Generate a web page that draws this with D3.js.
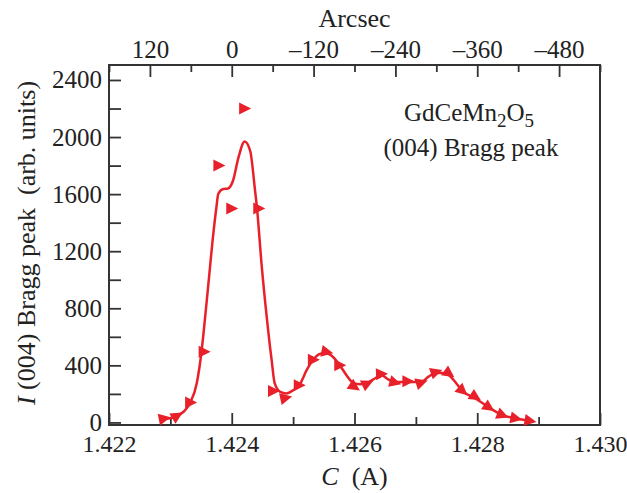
<!DOCTYPE html>
<html>
<head>
<meta charset="utf-8">
<script src="https://cdn.jsdelivr.net/npm/d3@7"></script>
<style>
  body { margin: 0; background: #fff; }
  text { font-family: "Liberation Serif", "Times New Roman", serif; fill: #222; }
</style>
</head>
<body>
<svg id="viz"></svg>
<script>
const width = 627, height = 493;

// measured points (lattice constant C, intensity)
const pointC = [1.42290, 1.42311, 1.42333, 1.42355, 1.42379, 1.42400, 1.42421, 1.42444,
                1.42468, 1.42488, 1.42510, 1.42533, 1.42555, 1.42576, 1.42600, 1.42621,
                1.42644, 1.42666, 1.42687, 1.42709, 1.42733, 1.42754, 1.42776, 1.42797,
                1.42819, 1.42841, 1.42863, 1.42886];
const pointI = [28, 46, 140, 495, 1800, 1500, 2200, 1500,
                221, 172, 261, 440, 494, 401, 249, 273,
                339, 280, 289, 280, 354, 343, 221, 179,
                105, 51, 28, 11];

// smooth fit curve
const curveC = [1.42290, 1.42311, 1.42333, 1.42343, 1.42351, 1.42354, 1.42362, 1.42370,
                1.42375, 1.42378, 1.42386, 1.42394, 1.42402, 1.42411, 1.42421, 1.42430,
                1.42438, 1.42441, 1.42449, 1.42457, 1.42465, 1.42470, 1.42479, 1.42489,
                1.42500, 1.42511, 1.42522, 1.42533, 1.42546, 1.42555, 1.42565, 1.42576,
                1.42587, 1.42598, 1.42609, 1.42621, 1.42633, 1.42644, 1.42655, 1.42666,
                1.42687, 1.42709, 1.42720, 1.42733, 1.42744, 1.42754, 1.42766, 1.42776,
                1.42797, 1.42819, 1.42841, 1.42863, 1.42886];
const curveI = [23, 46, 144, 275, 506, 624, 974, 1324,
                1508, 1601, 1636, 1640, 1694, 1857, 1969, 1904,
                1624, 1508, 1088, 738, 436, 273, 214, 203,
                226, 268, 366, 441, 483, 483, 459, 401,
                331, 277, 268, 277, 308, 331, 301, 284,
                284, 284, 319, 347, 347, 331, 273, 221,
                168, 105, 51, 28, 11];

const xTicksMajor = [1.422, 1.424, 1.426, 1.428, 1.430];
const xTicksMinor = [1.423, 1.425, 1.427, 1.429];
const yTicksMajor = [0, 400, 800, 1200, 1600, 2000, 2400];
const yTicksMinor = [200, 600, 1000, 1400, 1800, 2200];
const arcTicksMajor = [120, 0, -120, -240, -360, -480];
const arcTicksMinor = [180, 60, -60, -180, -300, -420, -540];

const margin = {top: 65, right: 27, bottom: 68, left: 109};
const red = "#e8202a", ink = "#333";
const fs = 25;

const svg = d3.select("#viz").attr("width", width).attr("height", height);

const x = d3.scaleLinear().domain([1.422, 1.430]).range([margin.left, width - margin.right]);
const y = d3.scaleLinear().domain([-18, 2505]).range([height - margin.bottom, margin.top]);
const xArc = d3.scaleLinear().domain([180, -540]).range([margin.left, width - margin.right]);

const fmtArc = d => d < 0 ? "\u2013" + Math.abs(d) : String(d);

function styleAxis(g, size) {
  g.select(".domain").remove();
  g.selectAll(".tick line").attr("stroke", ink).attr("stroke-width", 1.8);
  g.selectAll(".tick text").attr("font-size", size || fs).attr("fill", "#222")
    .style("font-family", "'Liberation Serif', serif");
}

// bottom axis
svg.append("g").attr("transform", `translate(0,${height - margin.bottom})`)
  .call(d3.axisBottom(x).tickValues(xTicksMinor).tickSize(-8).tickFormat(""))
  .call(styleAxis);
svg.append("g").attr("transform", `translate(0,${height - margin.bottom})`)
  .call(d3.axisBottom(x).tickValues(xTicksMajor).tickSize(-12).tickPadding(10).tickFormat(d3.format(".3f")))
  .call(styleAxis, 24);

// top axis (arcsec)
svg.append("g").attr("transform", `translate(0,${margin.top})`)
  .call(d3.axisTop(xArc).tickValues(arcTicksMinor).tickSize(-7).tickFormat(""))
  .call(styleAxis);
svg.append("g").attr("transform", `translate(0,${margin.top})`)
  .call(d3.axisTop(xArc).tickValues(arcTicksMajor).tickSize(-12).tickPadding(7).tickFormat(fmtArc))
  .call(styleAxis);

// left axis
svg.append("g").attr("transform", `translate(${margin.left},0)`)
  .call(d3.axisLeft(y).tickValues(yTicksMinor).tickSize(-12).tickFormat(""))
  .call(styleAxis);
svg.append("g").attr("transform", `translate(${margin.left},0)`)
  .call(d3.axisLeft(y).tickValues(yTicksMajor).tickSize(-12).tickPadding(7).tickFormat(d3.format("d")))
  .call(styleAxis);

// frame
svg.append("rect")
  .attr("x", margin.left).attr("y", margin.top)
  .attr("width", width - margin.left - margin.right)
  .attr("height", height - margin.top - margin.bottom)
  .attr("fill", "none").attr("stroke", ink).attr("stroke-width", 2);

// fit curve
const line = d3.line()
  .x((d, i) => x(curveC[i]))
  .y((d, i) => y(curveI[i]))
  .curve(d3.curveMonotoneX);

svg.append("path")
  .attr("d", line(curveC))
  .attr("fill", "none")
  .attr("stroke", red)
  .attr("stroke-width", 2.5);

// triangle markers, tilted along the neighbouring points
const tri = "M-5.5,-6L6.5,0L-5.5,6Z";
svg.append("g").selectAll("path")
  .data(pointC)
  .join("path")
    .attr("d", tri)
    .attr("fill", red)
    .attr("transform", (d, i) => {
      const a = Math.max(0, i - 1), b = Math.min(pointC.length - 1, i + 1);
      let ang = Math.atan2(y(pointI[b]) - y(pointI[a]), x(pointC[b]) - x(pointC[a])) * 180 / Math.PI;
      if (Math.abs(ang) > 50) ang = 0;
      return `translate(${x(d)},${y(pointI[i])}) rotate(${ang})`;
    });

// titles
svg.append("text")
  .attr("x", (margin.left + width - margin.right) / 2).attr("y", 27)
  .attr("text-anchor", "middle").attr("font-size", 26)
  .text("Arcsec");

const xt = svg.append("text")
  .attr("x", (margin.left + width - margin.right) / 2).attr("y", 485)
  .attr("text-anchor", "middle").attr("font-size", 26);
xt.append("tspan").attr("font-style", "italic").text("C");
xt.append("tspan").text("\u00a0\u00a0(A)");

const yt = svg.append("text")
  .attr("transform", `translate(35,${(margin.top + height - margin.bottom) / 2 - 2}) rotate(-90)`)
  .attr("text-anchor", "middle").attr("font-size", 26);
yt.append("tspan").attr("font-style", "italic").text("I");
yt.append("tspan").text(" (004) Bragg peak\u00a0\u00a0(arb. units)");

// annotation
const ann = svg.append("text")
  .attr("x", 469).attr("y", 121)
  .attr("text-anchor", "middle").attr("font-size", 25);
ann.append("tspan").text("GdCeMn");
ann.append("tspan").attr("dy", 6).attr("font-size", 19).text("2");
ann.append("tspan").attr("dy", -6).text("O");
ann.append("tspan").attr("dy", 6).attr("font-size", 19).text("5");

svg.append("text")
  .attr("x", 471).attr("y", 156)
  .attr("text-anchor", "middle").attr("font-size", 25)
  .text("(004) Bragg peak");
</script>
</body>
</html>
